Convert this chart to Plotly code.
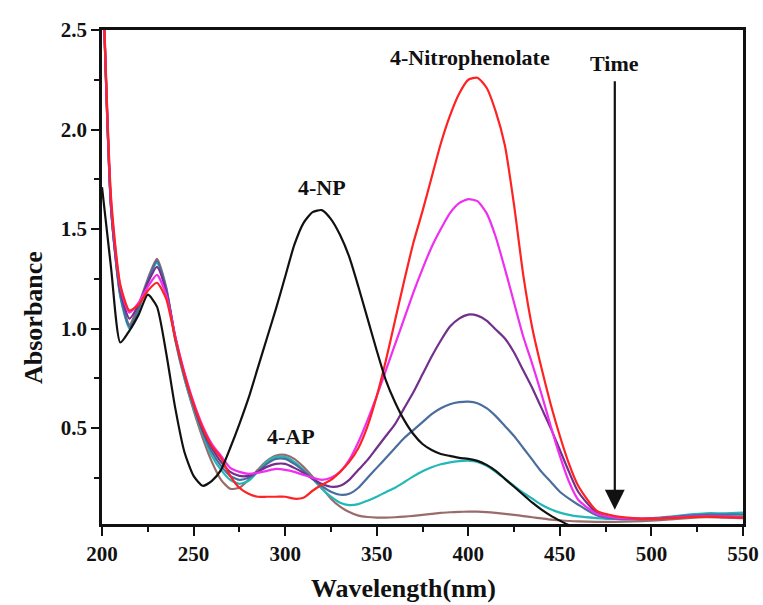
import plotly.graph_objects as go

wavelength = [200,205,210,215,220,225,230,235,240,245,250,255,260,265,270,275,280,285,290,295,
              300,305,310,315,320,325,330,335,340,345,350,355,360,365,370,375,380,385,390,395,
              400,405,410,415,420,425,430,435,440,445,450,455,460,470,480,490,500,510,520,530,540,550]

np_4 = [1.71,1.30,0.93,0.99,1.07,1.17,1.11,0.88,0.60,0.38,0.26,0.21,0.235,0.29,0.40,0.52,0.65,0.80,0.95,1.10,
        1.26,1.42,1.53,1.585,1.595,1.55,1.47,1.36,1.21,1.05,0.89,0.74,0.63,0.54,0.47,0.42,0.39,0.37,0.36,0.35,
        0.345,0.335,0.315,0.285,0.245,0.205,0.165,0.125,0.09,0.06,0.035,0.012,-0.01,-0.03,-0.03,-0.03,-0.03,-0.03,-0.03,-0.03,-0.03,-0.03]

red = [2.9,1.65,1.22,1.09,1.12,1.19,1.23,1.15,0.95,0.77,0.62,0.50,0.41,0.35,0.26,0.20,0.17,0.155,0.155,0.155,
       0.155,0.145,0.15,0.185,0.215,0.24,0.28,0.33,0.40,0.51,0.66,0.84,1.04,1.24,1.43,1.59,1.76,1.93,2.07,2.18,
       2.25,2.26,2.21,2.09,1.92,1.62,1.27,1.00,0.80,0.62,0.46,0.32,0.21,0.085,0.058,0.048,0.045,0.048,0.052,0.055,0.052,0.05]

magenta = [2.9,1.63,1.21,1.08,1.13,1.21,1.27,1.17,0.96,0.78,0.63,0.51,0.42,0.36,0.30,0.28,0.27,0.275,0.285,0.295,
           0.29,0.28,0.265,0.25,0.24,0.25,0.28,0.34,0.43,0.54,0.66,0.79,0.92,1.05,1.18,1.30,1.41,1.50,1.58,1.63,
           1.65,1.64,1.58,1.46,1.30,1.13,0.96,0.82,0.67,0.51,0.36,0.23,0.14,0.07,0.05,0.045,0.045,0.05,0.055,0.058,0.055,0.052]

purple = [2.9,1.60,1.19,1.05,1.12,1.23,1.31,1.19,0.96,0.77,0.62,0.49,0.40,0.33,0.28,0.26,0.26,0.28,0.305,0.32,
          0.32,0.30,0.275,0.245,0.22,0.205,0.21,0.24,0.29,0.34,0.40,0.46,0.52,0.60,0.68,0.77,0.86,0.94,1.01,1.05,
          1.07,1.065,1.04,0.995,0.95,0.88,0.79,0.70,0.60,0.50,0.39,0.28,0.18,0.075,0.05,0.045,0.045,0.05,0.055,0.058,0.055,0.052]

blue = [2.9,1.60,1.17,1.01,1.10,1.24,1.34,1.20,0.95,0.76,0.61,0.48,0.38,0.31,0.26,0.24,0.25,0.28,0.32,0.345,
        0.345,0.32,0.285,0.245,0.21,0.18,0.165,0.17,0.20,0.25,0.30,0.35,0.40,0.45,0.49,0.53,0.57,0.60,0.62,0.63,
        0.633,0.625,0.60,0.56,0.51,0.46,0.40,0.34,0.28,0.23,0.18,0.145,0.115,0.062,0.045,0.042,0.045,0.052,0.06,0.065,0.065,0.065]

cyan = [2.9,1.60,1.16,1.00,1.10,1.24,1.33,1.20,0.94,0.75,0.60,0.47,0.36,0.29,0.24,0.22,0.235,0.28,0.33,0.355,
        0.355,0.33,0.29,0.245,0.195,0.155,0.125,0.113,0.118,0.135,0.155,0.178,0.20,0.228,0.257,0.283,0.303,0.318,0.328,0.334,
        0.336,0.33,0.31,0.28,0.245,0.21,0.175,0.145,0.115,0.092,0.075,0.064,0.056,0.048,0.043,0.043,0.047,0.055,0.065,0.072,0.072,0.075]

brown = [2.9,1.60,1.17,1.02,1.12,1.25,1.35,1.21,0.95,0.75,0.59,0.45,0.33,0.24,0.195,0.20,0.24,0.29,0.335,0.362,
         0.365,0.345,0.305,0.255,0.20,0.145,0.105,0.078,0.06,0.053,0.05,0.05,0.052,0.055,0.059,0.064,0.069,0.074,0.077,0.079,
         0.08,0.08,0.078,0.074,0.069,0.064,0.058,0.052,0.046,0.04,0.036,0.033,0.031,0.029,0.029,0.031,0.035,0.041,0.048,0.052,0.05,0.047]

series = [
    ("brown", brown, "#9a6b6b"),
    ("cyan", cyan, "#22b8b8"),
    ("blue", blue, "#4a6d9e"),
    ("purple", purple, "#722f8c"),
    ("magenta", magenta, "#f02ef0"),
    ("red", red, "#ff2222"),
    ("4-NP", np_4, "#111111"),
]

SERIF = "Liberation Serif, Times New Roman, serif"

fig = go.Figure()
for name, vals, col in series:
    fig.add_trace(go.Scatter(x=wavelength, y=vals, mode="lines", name=name,
                             line=dict(color=col, width=2.2, shape="spline", smoothing=0.6)))

L, R, T, B = 102, 20, 30, 81
W, H = 763, 605
pw, ph = W - L - R, H - T - B

def px(xp):
    return (xp - L) / pw

def py(yp):
    return (H - B - yp) / ph

annots = [
    dict(x=401, y=2.36, text="4-Nitrophenolate"),
    dict(x=320, y=1.71, text="4-NP"),
    dict(x=303, y=0.46, text="4-AP"),
    dict(x=480, y=2.33, text="Time"),
]
for a in annots:
    fig.add_annotation(x=a["x"], y=a["y"], xref="x", yref="y", text=a["text"], showarrow=False,
                       xanchor="center", yanchor="middle",
                       font=dict(family=SERIF, size=22, color="#111111", weight="bold"))

fig.add_annotation(x=480, y=0.09, ax=480, ay=2.25, xref="x", yref="y", axref="x", ayref="y",
                   text="", showarrow=True, arrowhead=2, arrowsize=1.8, arrowwidth=2.2, arrowcolor="#111111")

fig.add_annotation(x=px(403), y=py(588), xref="paper", yref="paper", text="Wavelength(nm)",
                   xanchor="center", yanchor="middle",
                   showarrow=False, font=dict(family=SERIF, size=26, color="#111111", weight="bold"))
fig.add_annotation(x=px(33), y=py(318), xref="paper", yref="paper", text="Absorbance", textangle=-90,
                   xanchor="center", yanchor="middle",
                   showarrow=False, font=dict(family=SERIF, size=26, color="#111111", weight="bold"))

axis_common = dict(showline=True, linecolor="#111111", linewidth=2.5, mirror=True, ticks="outside",
                   tickcolor="#111111", tickwidth=2, showgrid=False, zeroline=False, automargin=False,
                   tickfont=dict(family=SERIF, size=21, color="#111111", weight="bold"))

fig.update_xaxes(range=[200, 550], tick0=200, dtick=50, ticklen=9,
                 minor=dict(dtick=25, ticks="outside", ticklen=5, tickcolor="#111111", tickwidth=2),
                 **axis_common)
fig.update_yaxes(range=[0.018, 2.5], tick0=0, dtick=0.5, ticklen=8, tickformat=".1f",
                 minor=dict(dtick=0.25, ticks="outside", ticklen=5, tickcolor="#111111", tickwidth=2),
                 **axis_common)

fig.update_layout(width=W, height=H, margin=dict(l=L, r=R, t=T, b=B, autoexpand=False),
                  plot_bgcolor="white", paper_bgcolor="white", showlegend=False)

fig.write_html("out.html",
               config={"displayModeBar": False, "responsive": False},
               post_script="document.body.style.margin='0';document.body.style.overflow='hidden';")
